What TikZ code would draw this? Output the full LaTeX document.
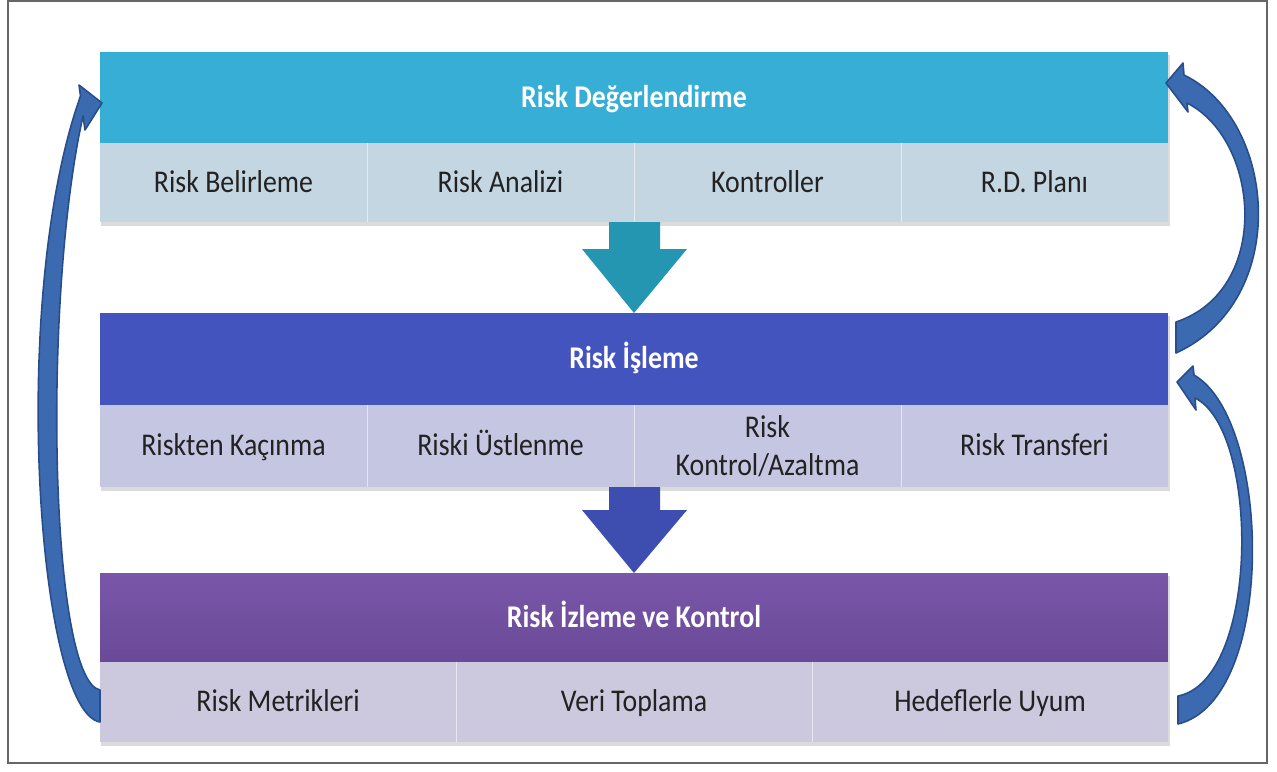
\documentclass[tikz,border=0pt]{standalone}
\usepackage{fontspec}
\setmainfont{Carlito}[FakeStretch=0.88]
\usetikzlibrary{calc}
\definecolor{hdrA}{RGB}{54,174,214}
\definecolor{subA}{RGB}{196,214,226}
\definecolor{hdrB}{RGB}{68,84,190}
\definecolor{subB}{RGB}{197,198,226}
\definecolor{hdrC}{RGB}{122,86,168}
\definecolor{hdrCd}{RGB}{106,74,152}
\definecolor{subC}{RGB}{204,200,222}
\definecolor{arrA}{RGB}{37,150,178}
\definecolor{arrB}{RGB}{61,77,176}
\definecolor{loopfill}{RGB}{60,106,176}
\definecolor{loopdraw}{RGB}{40,78,138}
\definecolor{txt}{RGB}{34,34,34}
\begin{document}
\begin{tikzpicture}[x=0.02cm,y=-0.02cm,
  hdr/.style={inner sep=0pt, font=\fontsize{18}{21.6}\selectfont\bfseries, text=white, minimum width=21.36cm, text height=13pt, text depth=2pt},
  cellbase/.style={inner sep=0pt, font=\fontsize{18}{21.6}\selectfont, text=txt, align=center},
  cell/.style={cellbase, text height=13pt, text depth=2pt},
  cellfour/.style={cell, minimum width=5.34cm},
  celltwo/.style={cellbase, minimum width=5.34cm},
  cellthree/.style={cell, minimum width=7.12cm},
  divider/.style={draw=white, draw opacity=0.55, line width=0.8pt},
  shadowbox/.style={fill=black, fill opacity=0.14},
  loop/.style={fill=loopfill, draw=loopdraw, line width=0.9pt, line join=round},
  frame/.style={draw=black!60, line width=1pt}]
\useasboundingbox (0,0) rectangle (1277,771);
\fill[white] (0,0) rectangle (1277,771);
\draw[frame] (8,1) rectangle (1267,763);

% shadows
\fill[shadowbox] (101,55) rectangle (1170,226);
\fill[shadowbox] (101,316) rectangle (1170,491);
\fill[shadowbox] (101,576) rectangle (1170,746);

% block arrows between stages
\fill[arrA] (609,222) -- (660,222) -- (660,249) -- (687,249) -- (634,313) -- (582,249) -- (609,249) -- cycle;
\fill[arrB] (609,487) -- (660,487) -- (660,510) -- (687,510) -- (634,573) -- (582,510) -- (609,510) -- cycle;

% stage 1
\node[hdr, fill=hdrA, minimum height=1.82cm] (h1) at (634,97.5) {Risk Değerlendirme};
\node[cellfour, fill=subA, minimum height=1.58cm] (a1) at (233.5,182.5) {Risk Belirleme};
\node[cellfour, fill=subA, minimum height=1.58cm] (a2) at (500.5,182.5) {Risk Analizi};
\node[cellfour, fill=subA, minimum height=1.58cm] (a3) at (767.5,182.5) {Kontroller};
\node[cellfour, fill=subA, minimum height=1.58cm] (a4) at (1034.5,182.5) {R.D. Planı};
\draw[divider] (a1.north east) -- (a1.south east);
\draw[divider] (a2.north east) -- (a2.south east);
\draw[divider] (a3.north east) -- (a3.south east);

% stage 2
\node[hdr, fill=hdrB, minimum height=1.84cm] (h2) at (634,359) {Risk İşleme};
\node[cellfour, fill=subB, minimum height=1.64cm] (b1) at (233.5,446) {Riskten Kaçınma};
\node[cellfour, fill=subB, minimum height=1.64cm] (b2) at (500.5,446) {Riski Üstlenme};
\node[celltwo, fill=subB, minimum height=1.64cm] (b3) at (767.5,446) {Risk\\Kontrol/Azaltma};
\node[cellfour, fill=subB, minimum height=1.64cm] (b4) at (1034.5,446) {Risk Transferi};
\draw[divider] (b1.north east) -- (b1.south east);
\draw[divider] (b2.north east) -- (b2.south east);
\draw[divider] (b3.north east) -- (b3.south east);

% stage 3
\node[hdr, top color=hdrC, bottom color=hdrCd, minimum height=1.78cm] (h3) at (634,617.5) {Risk İzleme ve Kontrol};
\node[cellthree, fill=subC, minimum height=1.6cm] (c1) at (278,702) {Risk Metrikleri};
\node[cellthree, fill=subC, minimum height=1.6cm] (c2) at (634,702) {Veri Toplama};
\node[cellthree, fill=subC, minimum height=1.6cm] (c3) at (990,702) {Hedeflerle Uyum};
\draw[divider] (c1.north east) -- (c1.south east);
\draw[divider] (c2.north east) -- (c2.south east);

% feedback loops
\filldraw[loop] (100,722) .. controls (38,712) and (8,300) .. (80.5,96) -- (79,85) -- (102,103) -- (85,130) -- (83,116) .. controls (42,300) and (50,680) .. (100,690) -- cycle;
\filldraw[loop] (1176,353) .. controls (1292,300) and (1277,120) .. (1184,75) -- (1183,63) -- (1166,83) -- (1188,112) -- (1187,103) .. controls (1260,140) and (1272,290) .. (1176,322) -- cycle;
\filldraw[loop] (1178,724) .. controls (1277,700) and (1272,420) .. (1194,375) -- (1193,366) -- (1177,382) -- (1196,410) -- (1195,398) .. controls (1260,430) and (1260,680) .. (1178,696) -- cycle;
\end{tikzpicture}
\end{document}
